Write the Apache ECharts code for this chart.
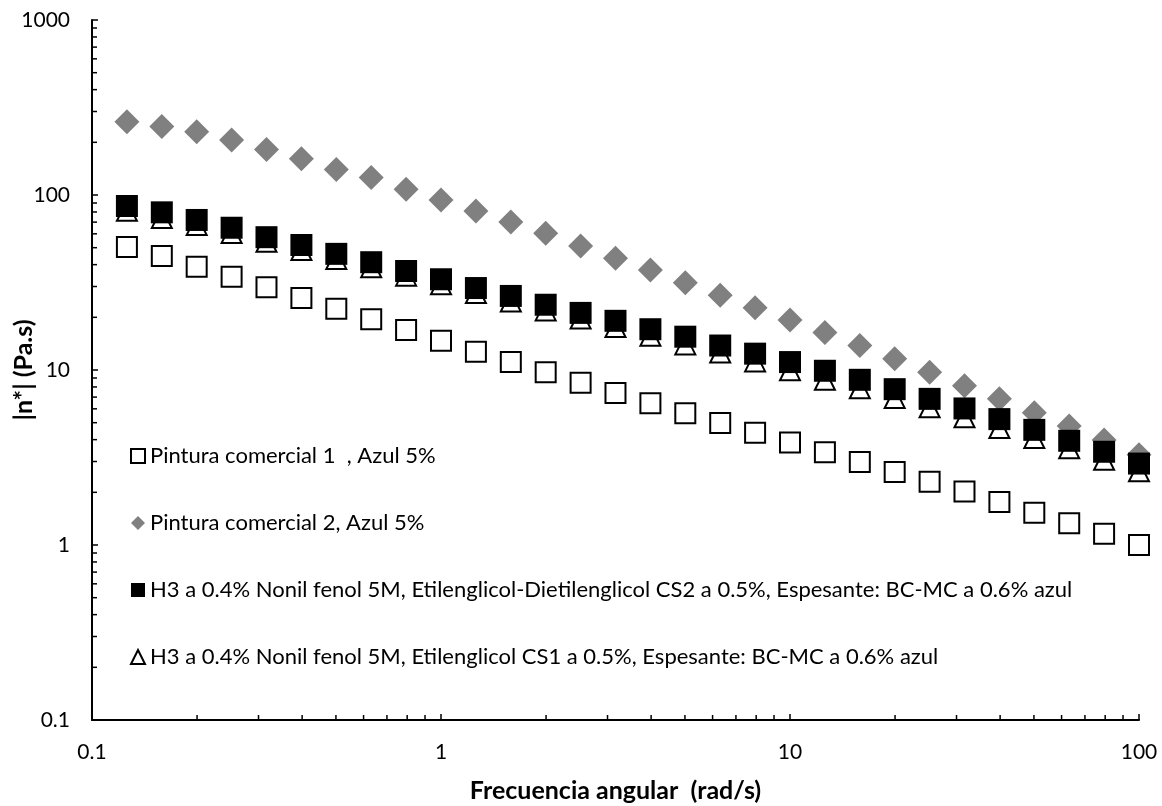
<!DOCTYPE html>
<html>
<head>
<meta charset="utf-8">
<title>Viscosidad compleja vs frecuencia angular</title>
<script src="https://cdn.jsdelivr.net/npm/echarts@6/dist/echarts.min.js"></script>
<style>
  html, body { margin: 0; padding: 0; background: #fff; }
  #chart { width: 1162px; height: 806px; }
</style>
</head>
<body>
<div id="chart"></div>
<script>
// Angular frequency (rad/s), 10 points per decade
const frequency = [0.1259, 0.1585, 0.1995, 0.2512, 0.3162, 0.3981, 0.5012, 0.6310, 0.7943, 1.0,
                   1.259, 1.585, 1.995, 2.512, 3.162, 3.981, 5.012, 6.310, 7.943, 10.0,
                   12.59, 15.85, 19.95, 25.12, 31.62, 39.81, 50.12, 63.10, 79.43, 100.0];

// |η*| (Pa.s) for each sample
const comercial1 = [50.4, 44.8, 38.9, 34.1, 29.7, 25.8, 22.4, 19.5, 16.9, 14.7,
                    12.7, 11.1, 9.7, 8.46, 7.39, 6.45, 5.66, 4.98, 4.38, 3.85,
                    3.39, 2.98, 2.61, 2.30, 2.02, 1.76, 1.53, 1.33, 1.16, 1.0];
const comercial2 = [262, 246, 230, 206, 182, 161, 140, 126, 108, 93.6,
                    81, 70.1, 60.4, 51.1, 43.5, 37.3, 31.5, 26.7, 22.7, 19.3,
                    16.4, 13.8, 11.6, 9.7, 8.13, 6.86, 5.70, 4.79, 3.98, 3.28];
const h3CS2 = [86.5, 79.6, 72, 65, 57.4, 51.8, 46.1, 41.3, 36.8, 33.0,
               29.4, 26.5, 23.6, 21.2, 19.1, 17.1, 15.5, 13.8, 12.4, 11.1,
               9.9, 8.79, 7.77, 6.84, 6.03, 5.24, 4.55, 3.94, 3.41, 2.92];
const h3CS1 = [81.3, 73.9, 67.4, 60.7, 54.1, 48.5, 43.1, 38.6, 34.6, 30.9,
               27.5, 24.6, 21.9, 19.7, 17.6, 15.7, 14.0, 12.6, 11.2, 9.96,
               8.8, 7.86, 6.92, 6.12, 5.37, 4.66, 4.09, 3.57, 3.07, 2.64];

const seriesNames = [
  'Pintura comercial 1  , Azul 5%',
  'Pintura comercial 2, Azul 5%',
  'H3 a 0.4% Nonil fenol 5M, Etilenglicol-Dietilenglicol CS2 a 0.5%, Espesante: BC-MC a 0.6% azul',
  'H3 a 0.4% Nonil fenol 5M, Etilenglicol CS1 a 0.5%, Espesante: BC-MC a 0.6% azul'
];

// Log-axis ranges and minor tick positions (2..9 within each decade)
const xDecades = [0.1, 1, 10];
const yDecades = [0.1, 1, 10, 100];
const minorSteps = [2, 3, 4, 5, 6, 7, 8, 9];

const FONT = 'Lato';
const pair = (ys) => frequency.map((x, i) => [x, ys[i]]);

const xMinor = [];
xDecades.forEach(d => minorSteps.forEach(m => xMinor.push([d * m, 0.1])));
const yMinor = [];
yDecades.forEach(d => minorSteps.forEach(m => yMinor.push([0.1, d * m])));

// Short inward ticks drawn at the minor log positions along each axis
function minorTickSeries(data, horizontal) {
  return {
    type: 'custom',
    silent: true,
    clip: false,
    z: 5,
    data: data,
    renderItem: function (params, api) {
      const p = api.coord([api.value(0), api.value(1)]);
      const shape = horizontal
        ? { x1: p[0], y1: p[1], x2: p[0] + 5, y2: p[1] }
        : { x1: p[0], y1: p[1], x2: p[0], y2: p[1] - 5 };
      return { type: 'line', shape: shape, style: { stroke: '#000', lineWidth: 1.5 } };
    }
  };
}

const fmt = (v) => String(+v.toPrecision(6));

const chart = echarts.init(document.getElementById('chart'), null, { renderer: 'canvas' });

chart.setOption({
  backgroundColor: '#fff',
  animation: false,
  textStyle: { fontFamily: FONT },
  grid: { left: 92, right: 23, top: 20, bottom: 86, containLabel: false, outerBoundsMode: 'none' },
  legend: {
    orient: 'vertical',
    left: 125,
    top: 440,
    itemWidth: 14,
    itemHeight: 14,
    itemGap: 45,
    data: seriesNames,
    textStyle: { fontFamily: FONT, fontSize: 22, color: '#000' }
  },
  xAxis: {
    type: 'log',
    logBase: 10,
    min: 0.1,
    max: 100,
    name: 'Frecuencia angular  (rad/s)',
    nameLocation: 'middle',
    nameGap: 58,
    nameMoveOverlap: false,
    nameTextStyle: { fontFamily: FONT, fontSize: 25, fontWeight: 'bold', color: '#000' },
    axisLine: { lineStyle: { color: '#000', width: 2 } },
    axisTick: { inside: true, length: 6, lineStyle: { color: '#000', width: 1.5 } },
    axisLabel: { margin: 22, fontFamily: FONT, fontSize: 21, color: '#000', formatter: fmt },
    splitLine: { show: false }
  },
  yAxis: {
    type: 'log',
    logBase: 10,
    min: 0.1,
    max: 1000,
    name: '|n*| (Pa.s)',
    nameLocation: 'middle',
    nameGap: 56,
    nameRotate: 90,
    nameMoveOverlap: false,
    nameTextStyle: { fontFamily: FONT, fontSize: 25, fontWeight: 'bold', color: '#000' },
    axisLine: { lineStyle: { color: '#000', width: 2 } },
    axisTick: { inside: true, length: 6, lineStyle: { color: '#000', width: 1.5 } },
    axisLabel: { margin: 22, fontFamily: FONT, fontSize: 21, color: '#000', formatter: fmt },
    splitLine: { show: false }
  },
  series: [
    {
      name: seriesNames[0],
      type: 'scatter',
      symbol: 'rect',
      symbolSize: 20,
      clip: false,
      z: 2,
      itemStyle: { color: '#fff', borderColor: '#000', borderWidth: 2, opacity: 1 },
      data: pair(comercial1)
    },
    {
      name: seriesNames[1],
      type: 'scatter',
      symbol: 'diamond',
      symbolSize: 25,
      clip: false,
      z: 2,
      itemStyle: { color: '#808080', opacity: 1 },
      data: pair(comercial2)
    },
    {
      name: seriesNames[2],
      type: 'scatter',
      symbol: 'rect',
      symbolSize: 22,
      clip: false,
      z: 4,
      itemStyle: { color: '#000', opacity: 1 },
      data: pair(h3CS2)
    },
    {
      name: seriesNames[3],
      type: 'scatter',
      symbol: 'triangle',
      symbolSize: 20,
      clip: false,
      z: 3,
      itemStyle: { color: '#fff', borderColor: '#000', borderWidth: 2, opacity: 1 },
      data: pair(h3CS1)
    },
    minorTickSeries(xMinor, false),
    minorTickSeries(yMinor, true)
  ]
});
</script>
</body>
</html>
